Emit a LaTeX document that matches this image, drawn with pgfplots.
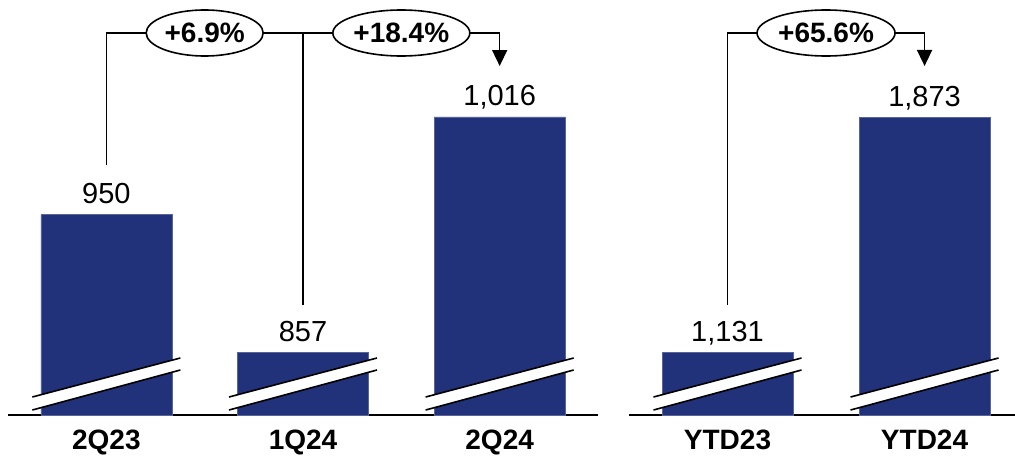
\documentclass[border=0pt]{standalone}
\usepackage{fontspec}
\setmainfont{Liberation Sans}
\usepackage{pgfplots}
\pgfplotsset{compat=1.18}
\usetikzlibrary{arrows.meta,shapes.geometric}
\definecolor{barblue}{RGB}{33,50,122}

\pgfplotsset{panel/.style={
  scale only axis, height=400pt, anchor=south west,
  ybar, bar width=131pt, bar shift=0pt,
  axis x line*=bottom, axis y line=none,
  x axis line style={-, line width=2pt, black},
  major tick length=0pt,
  xticklabel style={font=\fontsize{28}{30}\selectfont\bfseries, anchor=base, yshift=-34pt},
  nodes near coords,
  every node near coord/.append style={font=\fontsize{29}{31}\selectfont, anchor=base, yshift=11pt, text=black},
  /pgf/number format/assume math mode=true,
  /pgf/number format/1000 sep={,},
  clip=false, enlargelimits=false
}}

\newcommand{\brk}[2]{%
  \fill[white] ([xshift=-74pt,yshift=5pt]axis cs:#1,#2) -- ([xshift=74pt,yshift=45pt]axis cs:#1,#2) -- ([xshift=74pt,yshift=57pt]axis cs:#1,#2) -- ([xshift=-74pt,yshift=18pt]axis cs:#1,#2) -- cycle;
  \draw[line width=1.6pt] ([xshift=-74pt,yshift=5pt]axis cs:#1,#2) -- ([xshift=74pt,yshift=45pt]axis cs:#1,#2);
  \draw[line width=1.6pt] ([xshift=-74pt,yshift=18pt]axis cs:#1,#2) -- ([xshift=74pt,yshift=57pt]axis cs:#1,#2);
}

\tikzset{pct/.style={ellipse, draw, line width=1.6pt, fill=white, inner sep=0pt,
  minimum height=46pt, font=\fontsize{28}{30}\selectfont\bfseries}}

\begin{document}
\begin{tikzpicture}
\path[use as bounding box] (0,0) rectangle (1015pt,459pt);

\begin{axis}[panel, at={(8pt,44pt)}, width=590pt,
  xmin=-0.5, xmax=2.5, ymin=814.4, ymax=1085.0,
  xtick={0,1,2}, xticklabels={2Q23,1Q24,2Q24}]
\addplot[fill=barblue, draw=barblue!75!white, line width=0.6pt] coordinates {(0,950) (1,857) (2,1016)};
\brk{0}{814.4}
\brk{1}{814.4}
\brk{2}{814.4}
\draw[line width=1.6pt, -{Triangle[width=15pt,length=16pt]}]
  ([yshift=250pt]axis cs:0,814.4) -- ([yshift=382pt]axis cs:0,814.4)
  -- ([yshift=382pt]axis cs:2,814.4) -- ([yshift=349pt]axis cs:2,814.4);
\draw[line width=1.6pt] ([yshift=110pt]axis cs:1,814.4) -- ([yshift=382pt]axis cs:1,814.4);
\node[pct, minimum width=117pt] at ([yshift=382pt]axis cs:0.5,814.4) {+6.9\%};
\node[pct, minimum width=137pt] at ([yshift=382pt]axis cs:1.5,814.4) {+18.4\%};
\end{axis}

\begin{axis}[panel, at={(629pt,44pt)}, width=386pt,
  xmin=-0.5, xmax=1.459, ymin=932.1, ymax=2195.1,
  xtick={0,1}, xticklabels={YTD23,YTD24}]
\addplot[fill=barblue, draw=barblue!75!white, line width=0.6pt] coordinates {(0,1131) (1,1873)};
\brk{0}{932.1}
\brk{1}{932.1}
\draw[line width=1.6pt, -{Triangle[width=15pt,length=16pt]}]
  ([yshift=110pt]axis cs:0,932.1) -- ([yshift=382pt]axis cs:0,932.1)
  -- ([yshift=382pt]axis cs:1,932.1) -- ([yshift=349pt]axis cs:1,932.1);
\node[pct, minimum width=138pt] at ([yshift=382pt]axis cs:0.5,932.1) {+65.6\%};
\end{axis}
\end{tikzpicture}
\end{document}
